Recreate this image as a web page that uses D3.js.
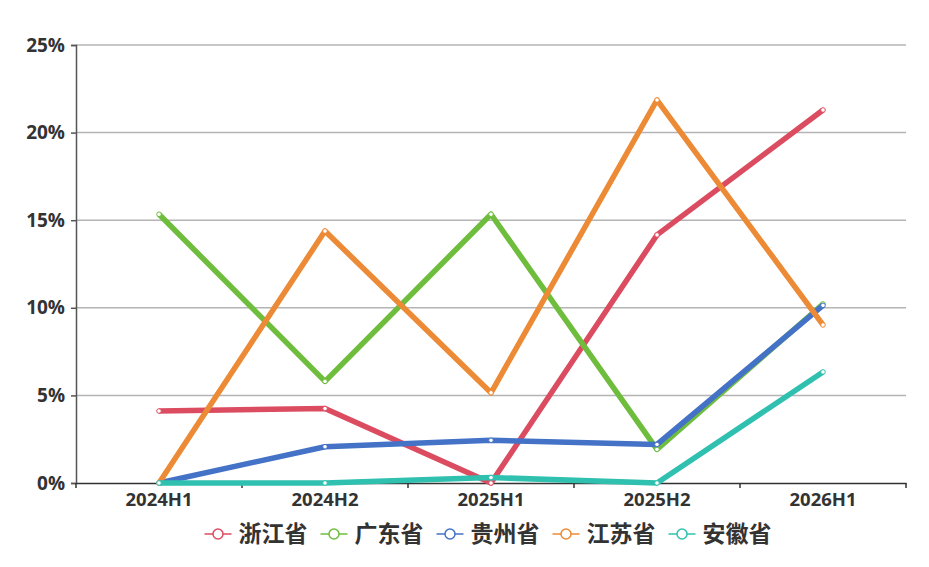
<!DOCTYPE html>
<html>
<head>
<meta charset="utf-8">
<script src="https://cdn.jsdelivr.net/npm/d3@7/dist/d3.min.js"></script>
<style>
  body { margin: 0; background: #fff; }
  svg text { font-family: "Open Sans", "Noto Sans CJK SC", sans-serif; font-weight: bold; fill: #333; }
</style>
</head>
<body>
<svg id="chart" width="929" height="567"></svg>
<script>
// categories and series
const periods = ['2024H1', '2024H2', '2025H1', '2025H2', '2026H1'];
const provinces = ['浙江省', '广东省', '贵州省', '江苏省', '安徽省'];
const colors = ['#dc4c60', '#6fbd3d', '#4472c6', '#ec8a35', '#2fc0b0'];

const zhejiang  = [4.11, 4.25, 0.0, 14.16, 21.29];
const guangdong = [15.34, 5.80, 15.34, 1.92, 10.22];
const guizhou   = [0.0, 2.07, 2.44, 2.20, 10.14];
const jiangsu   = [0.0, 14.38, 5.15, 21.86, 9.02];
const anhui     = [0.0, 0.0, 0.31, 0.0, 6.34];

const yTicks = [0, 5, 10, 15, 20, 25];

const series = [zhejiang, guangdong, guizhou, jiangsu, anhui];

// Dimensions
const width = 929;
const height = 567;
const margin = { top: 45, right: 23, bottom: 84, left: 76 };

const svg = d3.select('#chart');

// X scale
const x = d3.scaleBand()
  .domain(periods)
  .range([margin.left, width - margin.right]);

// Y scale
const y = d3.scaleLinear()
  .domain([0, 25])
  .range([height - margin.bottom, margin.top]);

// grid lines
svg.append('g')
  .selectAll('line')
  .data(yTicks.filter(d => d > 0))
  .enter().append('line')
  .attr('x1', margin.left)
  .attr('x2', width - margin.right)
  .attr('y1', d => y(d))
  .attr('y2', d => y(d))
  .attr('stroke', '#b4b4b4')
  .attr('stroke-width', 1.5);

// Y axis
const yAxis = svg.append('g')
  .attr('transform', `translate(${margin.left},0)`)
  .call(d3.axisLeft(y).tickValues(yTicks).tickFormat(d => d + '%').tickSize(5).tickPadding(6));
yAxis.select('.domain').attr('stroke', '#555').attr('stroke-width', 1.5);
yAxis.selectAll('.tick line').attr('stroke', '#555').attr('stroke-width', 1.5);
yAxis.selectAll('text').style('font-size', '19px').attr('fill', '#333');

// X axis
const xAxis = svg.append('g')
  .attr('transform', `translate(0,${height - margin.bottom})`)
  .call(d3.axisBottom(x).tickSize(0).tickPadding(10).tickSizeOuter(0));
xAxis.select('.domain').attr('stroke', '#333').attr('stroke-width', 1.5);
xAxis.selectAll('text').style('font-size', '18.5px').attr('fill', '#333');

// ticks on the band boundaries
svg.append('g')
  .selectAll('line')
  .data(d3.range(periods.length + 1))
  .enter().append('line')
  .attr('x1', i => margin.left + i * x.step())
  .attr('x2', i => margin.left + i * x.step())
  .attr('y1', height - margin.bottom)
  .attr('y2', height - margin.bottom + 5)
  .attr('stroke', '#333')
  .attr('stroke-width', 1.5);

const cx = d => x(d) + x.bandwidth() / 2;

const line = d3.line()
  .x((d, i) => cx(periods[i]))
  .y(d => y(d));

// Lines
series.forEach((values, s) => {
  const g = svg.append('g');
  g.append('path')
    .datum(values)
    .attr('d', line)
    .attr('fill', 'none')
    .attr('stroke', colors[s])
    .attr('stroke-width', 5.5)
    .attr('stroke-linejoin', 'round');
  g.selectAll('circle')
    .data(values)
    .enter().append('circle')
    .attr('cx', (d, i) => cx(periods[i]))
    .attr('cy', d => y(d))
    .attr('r', 2.3)
    .attr('fill', '#fff')
    .attr('stroke', colors[s])
    .attr('stroke-width', 1);
});

// Legend
const legend = svg.append('g');
let lx = 0;
provinces.forEach((name, i) => {
  const item = legend.append('g').attr('transform', `translate(${lx},0)`);
  item.append('line')
    .attr('x1', 0).attr('x2', 27)
    .attr('y1', 0).attr('y2', 0)
    .attr('stroke', colors[i]).attr('stroke-width', 1.5);
  item.append('circle')
    .attr('cx', 13.5).attr('cy', 0).attr('r', 5)
    .attr('fill', '#fff').attr('stroke', colors[i]).attr('stroke-width', 1.5);
  const t = item.append('text')
    .attr('x', 34).attr('y', 0)
    .attr('dy', '0.35em')
    .style('font-size', '23px')
    .style('font-family', '"Noto Sans CJK SC", sans-serif')
    .text(name);
  lx += 34 + t.node().getComputedTextLength() + 13;
});
const legendWidth = lx - 13;
legend.attr('transform', `translate(${(margin.left + width - margin.right) / 2 - legendWidth / 2 - 3},534)`);
</script>
</body>
</html>
